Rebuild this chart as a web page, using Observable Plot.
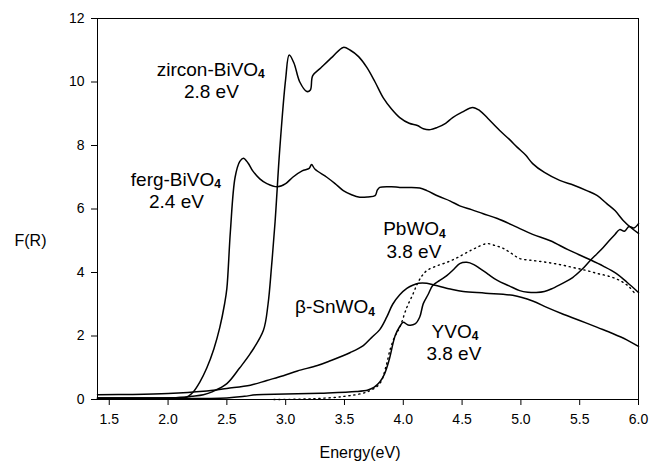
<!DOCTYPE html>
<html><head><meta charset="utf-8">
<script src="https://cdn.jsdelivr.net/npm/d3@7"></script>
<script src="https://cdn.jsdelivr.net/npm/@observablehq/plot@0.6"></script>
<style>body{margin:0;background:#fff}</style>
</head><body><div id="chart"></div>
<script>
// zircon-BiVO4
const zirconE = [1.4,1.8,2.1,2.2,2.3,2.38,2.5,2.61,2.7,2.81,2.85,2.88,2.91,2.95,3.0,3.03,3.07,3.12,3.18,3.21,3.23,3.3,3.4,3.49,3.55,3.62,3.69,3.76,3.83,3.9,3.97,4.05,4.12,4.17,4.23,4.29,4.36,4.42,4.5,4.59,4.65,4.72,4.82,4.9,4.97,5.04,5.1,5.2,5.33,5.45,5.56,5.65,5.73,5.8,5.87,5.94,6.0];
const zirconF = [0.05,0.05,0.06,0.1,0.15,0.25,0.5,1.0,1.45,2.17,3.0,4.2,5.6,7.9,10.1,10.85,10.6,10.0,9.7,9.75,10.2,10.45,10.8,11.09,11.0,10.8,10.46,10.0,9.5,9.15,8.88,8.7,8.63,8.53,8.5,8.57,8.7,8.88,9.05,9.2,9.1,8.85,8.47,8.2,7.94,7.7,7.43,7.15,6.9,6.75,6.58,6.42,6.17,5.95,5.64,5.4,5.23];
// ferg-BiVO4
const fergE = [1.4,1.8,2.0,2.1,2.16,2.21,2.27,2.33,2.39,2.44,2.48,2.5,2.53,2.57,2.61,2.64,2.68,2.72,2.78,2.84,2.93,3.0,3.06,3.14,3.2,3.22,3.25,3.35,3.42,3.49,3.56,3.63,3.7,3.76,3.78,3.8,3.9,3.97,4.05,4.14,4.2,4.3,4.4,4.48,4.58,4.68,4.8,4.97,5.1,5.25,5.4,5.59,5.7,5.81,5.9,6.0];
const fergF = [0.05,0.05,0.05,0.06,0.08,0.22,0.55,1.0,1.6,2.27,3.0,3.5,5.3,7.0,7.5,7.6,7.45,7.2,6.95,6.8,6.7,6.8,7.0,7.2,7.28,7.4,7.25,7.0,6.8,6.58,6.45,6.37,6.38,6.42,6.6,6.68,6.7,6.68,6.68,6.66,6.58,6.4,6.25,6.1,5.98,5.85,5.7,5.42,5.2,5.0,4.72,4.4,4.2,3.97,3.7,3.37];
// beta-SnWO4
const snE = [1.4,1.7,2.0,2.3,2.5,2.7,2.84,2.98,3.1,3.27,3.38,3.55,3.66,3.73,3.8,3.86,3.91,3.97,4.03,4.08,4.13,4.2,4.27,4.4,4.51,4.7,4.93,5.1,5.22,5.35,5.5,5.65,5.78,5.9,6.0];
const snF = [0.15,0.16,0.19,0.26,0.35,0.45,0.6,0.75,0.9,1.07,1.22,1.48,1.7,1.95,2.2,2.6,3.0,3.3,3.5,3.6,3.66,3.66,3.6,3.48,3.4,3.35,3.28,3.1,2.9,2.7,2.49,2.27,2.08,1.88,1.67];
// YVO4
const yvoE = [1.4,2.0,2.5,2.65,2.75,3.0,3.3,3.6,3.7,3.75,3.8,3.84,3.88,3.93,3.97,4.0,4.04,4.1,4.14,4.17,4.21,4.25,4.31,4.37,4.43,4.48,4.54,4.6,4.65,4.72,4.8,4.9,4.99,5.06,5.13,5.2,5.27,5.35,5.44,5.52,5.59,5.65,5.7,5.75,5.8,5.84,5.88,5.92,5.96,6.0];
const yvoF = [0.03,0.03,0.05,0.1,0.15,0.17,0.2,0.25,0.3,0.38,0.55,0.8,1.25,2.0,2.3,2.43,2.35,2.38,2.6,3.02,3.3,3.59,3.75,3.9,4.1,4.28,4.32,4.25,4.13,3.95,3.75,3.58,3.43,3.38,3.37,3.4,3.5,3.65,3.84,4.1,4.38,4.6,4.79,5.0,5.2,5.35,5.3,5.45,5.4,5.54];
// PbWO4 (dotted)
const pbE = [2.9,3.2,3.5,3.7,3.8,3.85,3.89,3.93,3.97,4.03,4.08,4.12,4.16,4.2,4.28,4.37,4.45,4.54,4.62,4.71,4.78,4.85,4.92,4.99,5.1,5.22,5.33,5.44,5.55,5.65,5.75,5.84,5.92,5.98];
const pbF = [0.0,0.02,0.1,0.25,0.5,1.0,1.6,2.0,2.27,2.9,3.3,3.65,3.9,4.06,4.2,4.32,4.45,4.63,4.78,4.91,4.85,4.76,4.6,4.44,4.38,4.32,4.25,4.16,4.07,3.97,3.88,3.75,3.55,3.28];

const labelText = ["zircon-BiVO₄","2.8 eV","ferg-BiVO₄","2.4 eV","PbWO₄","3.8 eV","β-SnWO₄","YVO₄","3.8 eV"];
const labelE = [2.363,2.368,2.066,2.071,4.095,4.09,3.42,4.44,4.43];
const labelF = [10.2,9.51,6.74,6.02,5.17,4.47,2.71,1.95,1.23];

const xTicks = [1.5,2.0,2.5,3.0,3.5,4.0,4.5,5.0,5.5,6.0];
const yTicks = [0,2,4,6,8,10,12];

function series(name, E, F) { return E.map((e, i) => ({name, e, f: F[i]})); }
const solid = [
  ...series("zircon", zirconE, zirconF),
  ...series("ferg", fergE, fergF),
  ...series("sn", snE, snF),
  ...series("yvo", yvoE, yvoF)
];
const dotted = series("pb", pbE, pbF);
const labels = labelText.map((t, i) => ({t, e: labelE[i], f: labelF[i]}));

const chart = Plot.plot({
  width: 650, height: 462,
  marginLeft: 97, marginRight: 12, marginTop: 18, marginBottom: 63,
  style: {fontFamily: "'Liberation Sans', Arial, sans-serif", fontSize: "14px", color: "black", background: "white"},
  x: {domain: [1.4, 6.0], ticks: xTicks, tickFormat: d3.format(".1f"), tickSize: 6, tickPadding: 9, label: null},
  y: {domain: [0, 12], ticks: yTicks, tickSize: 6, tickPadding: 7, label: null},
  marks: [
    Plot.frame({stroke: "black", strokeWidth: 1}),
    Plot.line(solid, {x: "e", y: "f", z: "name", stroke: "black", strokeWidth: 1.5, curve: "catmull-rom"}),
    Plot.line(dotted, {x: "e", y: "f", stroke: "black", strokeWidth: 1.4, strokeDasharray: "1.2,3.8", curve: "catmull-rom"}),
    Plot.text(labels, {x: "e", y: "f", text: "t", lineAnchor: "bottom", fontSize: 19}),
    Plot.text(["F(R)"], {frameAnchor: "left", text: d => d, dx: -67, dy: 37, lineAnchor: "bottom", textAnchor: "middle", fontSize: 16}),
    Plot.text(["Energy(eV)"], {frameAnchor: "bottom", text: d => d, dx: -8, dy: 58, lineAnchor: "bottom", textAnchor: "middle", fontSize: 16})
  ]
});
// render subscript 4 as a real lowered, smaller digit
d3.select(chart).selectAll("text").each(function() {
  const s = this.textContent;
  if (s.endsWith("₄") && this.childElementCount === 0) {
    const el = d3.select(this);
    el.text(s.slice(0, -1));
    el.append("tspan").attr("font-size", "12px").attr("dy", "0.2em").attr("font-weight", "bold").text("4");
  }
});
document.getElementById("chart").append(chart);
</script>
</body></html>
